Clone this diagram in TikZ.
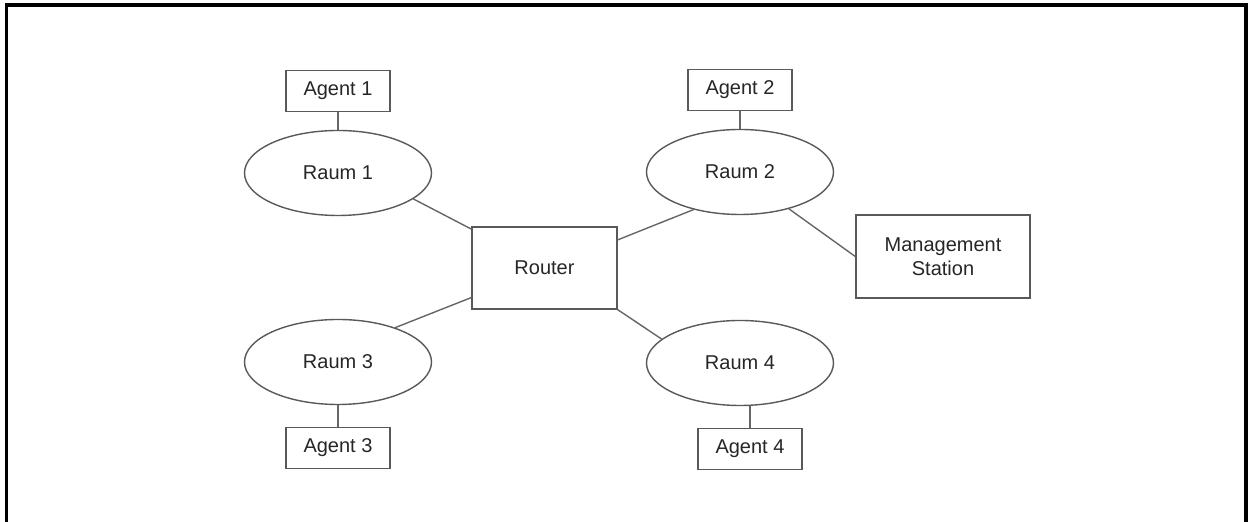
\documentclass[tikz,border=0pt]{standalone}
\usepackage{fontspec}
\setmainfont{Liberation Sans}
\usetikzlibrary{shapes.geometric}
\usetikzlibrary{positioning}

\begin{document}
\begin{tikzpicture}[x=0.5pt,y=-0.5pt,-,node distance=41pt,
			agent node/.style={rectangle,draw=black!65,line width=0.7pt,text=black!85,
				font=\fontsize{10}{12}\selectfont,inner sep=0pt,
				minimum width=52pt,minimum height=20.5pt},
			raum node/.style={ellipse,draw=black!65,line width=0.7pt,text=black!85,
				font=\fontsize{10}{12}\selectfont,inner sep=0pt,
				minimum width=93.5pt,minimum height=42.5pt},
			router node/.style={agent node,minimum width=72.5pt,minimum height=41pt},
			station node/.style={agent node,align=center,
				minimum width=87pt,minimum height=41.5pt},
			link/.style={draw=black!60,line width=0.7pt}]
			
			\useasboundingbox (0,0) rectangle (1248,522);
			\draw[line width=1.6pt] (6.5,522) -- (6.5,5) -- (1246,5) -- (1246,522);
			
			\node[router node] (R) at (544.5,268) {Router};
			\node[raum node] (R1) at (338,173) {Raum 1};
			\node[raum node] (R2) at (740,172) {Raum 2};
			\node[raum node] (R3) at (338,362) {Raum 3};
			\node[raum node] (R4) at (740,363) {Raum 4};
			\node[agent node] (A1) [above of=R1] {Agent 1};
			\node[agent node] (A2) [above of=R2] {Agent 2};
			\node[agent node] (A3) [below of=R3,node distance=43pt] {Agent 3};
			\node[agent node] (A4) [below of=R4,node distance=43pt,xshift=5pt] {Agent 4};
			\node[station node] (M) at (943,256.5) {Management\\Station};
			
			\path[link]
			(A1) edge (R1)
			(A2) edge (R2)
			(A3) edge (R3)
			(A4) edge (A4 |- R4.south)
			(R1.341) edge (R.152)
			(R.21) edge (R2.219)
			(R.202) edge (R3.31)
			(R.south east) edge (R4.163)
			(R2.323) edge (M.west);
		\end{tikzpicture}
\end{document}
